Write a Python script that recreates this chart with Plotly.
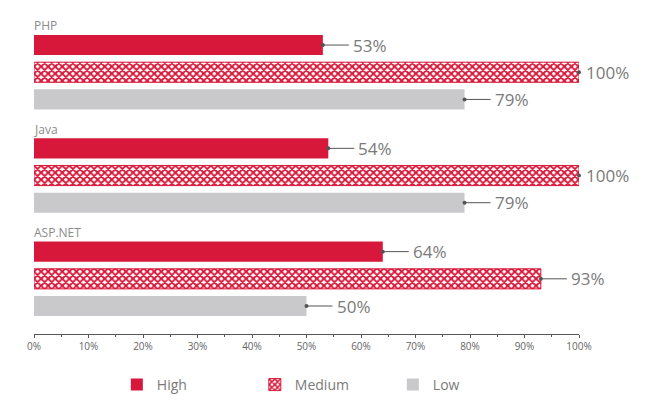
import plotly.graph_objects as go

groups = ["PHP", "Java", "ASP.NET"]
series = ["High", "Medium", "Low"]
high = [53, 54, 64]
medium = [100, 100, 93]
low = [79, 79, 50]
tick_vals = [0, 10, 20, 30, 40, 50, 60, 70, 80, 90, 100]
tick_text = [f"{v}%" for v in tick_vals]

values = {"High": high, "Medium": medium, "Low": low}

RED = "#D8183A"
GRAY = "#C9C8CB"
TXT = "#7a7a7a"
FONT = "Open Sans"
GROUP_STEP = 3.8

def ypos(gi, si):
    return gi * GROUP_STEP + si

fig = go.Figure()

styles = {
    "High": dict(color=RED, line=dict(width=0)),
    "Medium": dict(color="white", line=dict(color=RED, width=1),
                   pattern=dict(shape="x", fgcolor=RED, bgcolor="white", fgopacity=1,
                                size=5, solidity=0.62)),
    "Low": dict(color=GRAY, line=dict(width=0)),
}

for si, s in enumerate(series):
    fig.add_trace(go.Bar(
        x=values[s],
        y=[ypos(gi, si) for gi in range(len(groups))],
        orientation="h",
        name=s,
        width=0.74,
        marker=styles[s],
        hoverinfo="skip",
    ))

# leader dots, lines and value labels
dot_x, dot_y = [], []
for si, s in enumerate(series):
    for gi in range(len(groups)):
        v = values[s][gi]
        y = ypos(gi, si)
        length = 26 if v < 100 else 3
        dot_x.append(v)
        dot_y.append(y)
        fig.add_shape(type="line", xsizemode="pixel", xanchor=v, x0=0, x1=length,
                      y0=y, y1=y, line=dict(color="#555555", width=1), layer="above")
        fig.add_annotation(x=v, y=y, text=f"{v}%", showarrow=False,
                           xanchor="left", yanchor="middle", xshift=length + 2,
                           font=dict(family=FONT, size=17, color=TXT))

fig.add_trace(go.Scatter(x=dot_x, y=dot_y, mode="markers",
                         marker=dict(color="#555555", size=4),
                         showlegend=False, hoverinfo="skip", cliponaxis=False))

for gi, g in enumerate(groups):
    fig.add_annotation(x=0, y=ypos(gi, 0) - 0.72, text=g, showarrow=False,
                       xanchor="left", yanchor="bottom", yshift=-11, xshift=-2,
                       font=dict(family=FONT, size=12, color="#8a8a8a"))

fig.update_layout(
    width=670, height=409,
    margin=dict(l=26, r=99, t=2, b=83, autoexpand=False),
    paper_bgcolor="white", plot_bgcolor="white",
    barmode="overlay",
    showlegend=True,
    legend=dict(orientation="h", x=0.152, xanchor="left", y=-0.108, yanchor="top",
                entrywidth=93, entrywidthmode="pixels", itemwidth=30,
                font=dict(family=FONT, size=14, color=TXT), traceorder="normal"),
    xaxis=dict(range=[0, 100], tickvals=tick_vals, ticktext=tick_text,
               showgrid=False, zeroline=False, showline=True, linecolor="#555555",
               linewidth=1, ticks="outside", ticklen=3, tickcolor="#555555",
               minor=dict(dtick=5, ticks="outside", ticklen=2, tickcolor="#555555"),
               tickfont=dict(family=FONT, size=10, color="#666666"), fixedrange=True),
    yaxis=dict(range=[10.63, -1.29], showgrid=False, zeroline=False,
               showticklabels=False, showline=False, fixedrange=True),
)

fig.write_html("out.html")
